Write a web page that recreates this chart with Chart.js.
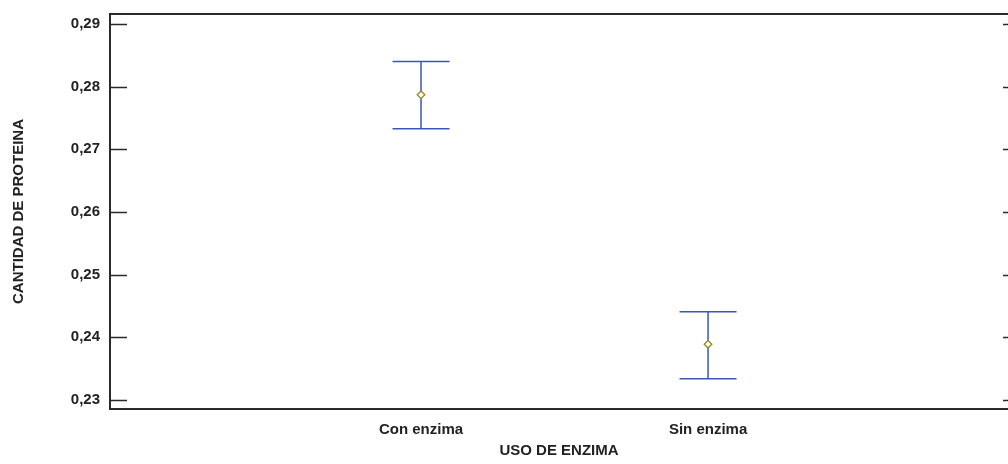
<!DOCTYPE html>
<html>
<head>
<meta charset="utf-8">
<script src="https://cdn.jsdelivr.net/npm/chart.js@4.4.1/dist/chart.umd.min.js"></script>
<style>
  html, body { margin: 0; padding: 0; background: #fff; }
  #wrap { width: 1008px; height: 464px; }
</style>
</head>
<body>
<div id="wrap"><canvas id="c" width="1008" height="464"></canvas></div>
<script>
// Group labels and their positions on the x axis
const categories = ['Con enzima', 'Sin enzima'];
const positions = [1, 2];
// Mean protein amount per group with interval bounds
const means = [0.2787, 0.2389];
const lower = [0.2733, 0.2334];
const upper = [0.2840, 0.2441];
// Y tick values
const yTicks = [0.23, 0.24, 0.25, 0.26, 0.27, 0.28, 0.29];

const FONT = '"Liberation Sans", Arial, sans-serif';

// Frame, inward ticks and interval bars
const framePlugin = {
  id: 'frame',
  beforeDatasetsDraw(chart) {
    const { ctx, scales } = chart;
    const ys = scales.y, xs = scales.x;
    ctx.save();
    ctx.strokeStyle = '#3a57b4';
    ctx.lineWidth = 1.5;
    const capHalf = 28.5;
    for (let i = 0; i < means.length; i++) {
      const px = xs.getPixelForValue(positions[i]);
      const pl = ys.getPixelForValue(lower[i]);
      const pu = ys.getPixelForValue(upper[i]);
      ctx.beginPath();
      ctx.moveTo(px, pu); ctx.lineTo(px, pl);
      ctx.moveTo(px - capHalf, pu); ctx.lineTo(px + capHalf, pu);
      ctx.moveTo(px - capHalf, pl); ctx.lineTo(px + capHalf, pl);
      ctx.stroke();
    }
    ctx.restore();
  },
  afterDraw(chart) {
    const { ctx, chartArea: a, scales } = chart;
    const ys = scales.y;
    ctx.save();
    ctx.strokeStyle = '#2a2a2a';
    ctx.lineWidth = 2;
    ctx.strokeRect(a.left, a.top, a.right - a.left + 2, a.bottom - a.top);
    ctx.lineWidth = 1.5;
    ctx.beginPath();
    yTicks.forEach(v => {
      const py = Math.round(ys.getPixelForValue(v)) + 0.5;
      ctx.moveTo(a.left, py); ctx.lineTo(a.left + 17, py);
      ctx.moveTo(a.right, py); ctx.lineTo(a.right - 5, py);
    });
    ctx.stroke();
    ctx.restore();
  }
};

new Chart(document.getElementById('c'), {
  type: 'scatter',
  data: {
    datasets: [{
      data: positions.map((p, i) => ({ x: p, y: means[i] })),
      pointStyle: 'rectRot',
      pointRadius: 3.8,
      pointHoverRadius: 3.8,
      borderColor: '#8c8a2c',
      backgroundColor: '#fffbe8',
      borderWidth: 1.3
    }]
  },
  options: {
    responsive: false,
    animation: false,
    events: [],
    layout: { autoPadding: false, padding: { top: 14, right: 0, left: 0, bottom: 0 } },
    plugins: { legend: { display: false }, tooltip: { enabled: false } },
    scales: {
      x: {
        type: 'linear',
        min: -0.0836,
        max: 3.045,
        grid: { display: false, drawTicks: false },
        border: { display: false },
        afterBuildTicks: s => { s.ticks = positions.map(v => ({ value: v })); },
        afterFit: s => { s.height = 55; s.paddingLeft = 0; s.paddingRight = 0; },
        ticks: {
          autoSkip: false,
          maxRotation: 0,
          padding: 12,
          color: '#222',
          font: { family: FONT, size: 15, weight: 'bold' },
          callback: v => categories[positions.indexOf(v)] ?? ''
        },
        title: {
          display: true,
          text: 'USO DE ENZIMA',
          color: '#222',
          padding: { top: 0, bottom: 4 },
          font: { family: FONT, size: 15, weight: 'bold' }
        }
      },
      y: {
        min: 0.22856,
        max: 0.29160,
        grid: { display: false, drawTicks: false },
        border: { display: false },
        afterBuildTicks: s => { s.ticks = yTicks.map(v => ({ value: v })); },
        afterFit: s => { s.width = 110; s.paddingTop = 0; s.paddingBottom = 0; },
        ticks: {
          padding: 10,
          color: '#222',
          font: { family: FONT, size: 15, weight: 'bold' },
          callback: v => v.toFixed(2).replace('.', ',')
        },
        title: {
          display: true,
          text: 'CANTIDAD DE PROTEINA',
          color: '#222',
          padding: { top: 10, bottom: 0 },
          font: { family: FONT, size: 15, weight: 'bold' }
        }
      }
    }
  },
  plugins: [framePlugin]
});
</script>
</body>
</html>
